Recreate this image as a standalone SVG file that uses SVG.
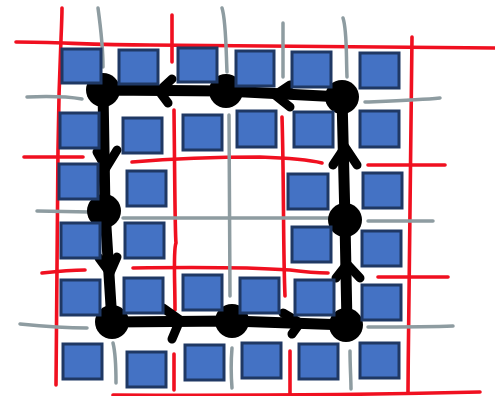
<svg xmlns="http://www.w3.org/2000/svg" width="495" height="396" viewBox="0 0 495 396">
<style>
.red{fill:none;stroke:#F01020;stroke-width:3.6;stroke-linecap:round;stroke-linejoin:round}
.gray{fill:none;stroke:#8E9CA1;stroke-width:3.5;stroke-linecap:round;stroke-linejoin:round}
.loop{fill:none;stroke:#000;stroke-width:11;stroke-linejoin:round;stroke-linecap:round}
.barb{fill:none;stroke:#000;stroke-width:9;stroke-linecap:round;stroke-linejoin:round}
.dot{fill:#000}
.sq{fill:#4472C4;stroke:#1F3864;stroke-width:3}
</style>
<rect width="495" height="396" fill="#fff"/>
<g id="grid-red">
<path class="red" d="M16,42 C60,42 90,45 150,45 L495,48"/>
<path class="red" d="M62,8 C62,30 59,60 58,150 L56,385"/>
<path class="red" d="M172,15 L172,62"/>
<path class="red" d="M174,110 C175,200 175,235 176,243 C173,250 175,280 175,310"/>
<path class="red" d="M174,354 L174,390"/>
<path class="red" d="M282,117 C284,180 283,250 285,296"/>
<path class="red" d="M290,351 L290,396"/>
<path class="red" d="M412,37 C411,100 409,250 408,393"/>
<path class="red" d="M24,157 L83,157"/>
<path class="red" d="M132,162 C180,158 240,157 260,157 C290,158 310,160 322,163"/>
<path class="red" d="M368,165 L445,165"/>
<path class="red" d="M42,273 C60,271 75,270 85,270"/>
<path class="red" d="M133,268 C200,267 260,268 290,270 C305,272 320,273 328,273"/>
<path class="red" d="M378,277 L448,277"/>
<path class="red" d="M113,395 C250,396 350,395 480,392"/>
</g>
<g id="grid-gray">
<path class="gray" d="M98,8 C101,30 103,50 103,67"/>
<path class="gray" d="M222,8 C226,20 226,50 227,72"/>
<path class="gray" d="M229,115 C230,200 230,250 230,296"/>
<path class="gray" d="M283,23 L283,77"/>
<path class="gray" d="M343,18 C347,30 346,50 347,77"/>
<path class="gray" d="M113,343 C116,355 116,370 116,383"/>
<path class="gray" d="M232,348 C231,360 231,375 232,388"/>
<path class="gray" d="M350,351 C350,365 351,380 351,389"/>
<path class="gray" d="M27,97 C50,96 70,97 82,99"/>
<path class="gray" d="M365,102 C390,101 420,100 440,98"/>
<path class="gray" d="M37,211 L90,212"/>
<path class="gray" d="M123,218 L328,218"/>
<path class="gray" d="M368,221 L433,221"/>
<path class="gray" d="M20,324 C40,326 70,328 87,328"/>
<path class="gray" d="M368,327 C400,327 430,327 453,326"/>
</g>
<g id="connectors">
<path class="loop" d="M103,90 L226,91 L342,97 L345,221 L347,325 L232,321 L112,322 L105,211 Z"/>
<path class="barb" d="M172,79 L159,91 L168,103"/>
<path class="barb" d="M290,85 L275,95 L290,107"/>
<path class="barb" d="M97,152 L106,168 L117,150"/>
<path class="barb" d="M99,258 L110,273 L117,257"/>
<path class="barb" d="M163,308 L180,320 L172,339"/>
<path class="barb" d="M283,313 L300,323 L292,334"/>
<path class="barb" d="M336,278 L347,264 L360,278"/>
<path class="barb" d="M333,165 L345,147 L357,165"/>
</g>
<g id="n1"><circle class="dot" cx="103" cy="90" r="17"/></g>
<g id="n2"><circle class="dot" cx="226" cy="91" r="17"/></g>
<g id="n3"><circle class="dot" cx="342" cy="97" r="17"/></g>
<g id="n4"><circle class="dot" cx="104" cy="211" r="17"/></g>
<g id="n5"><circle class="dot" cx="345" cy="220" r="17"/></g>
<g id="n6"><circle class="dot" cx="112" cy="322" r="17"/></g>
<g id="n7"><circle class="dot" cx="232" cy="321" r="17"/></g>
<g id="n8"><circle class="dot" cx="346" cy="325" r="17"/></g>
<g id="squares">
<g id="s1"><rect class="sq" x="62" y="49" width="39" height="34"/></g>
<g id="s2"><rect class="sq" x="119" y="50" width="39" height="34"/></g>
<g id="s3"><rect class="sq" x="178" y="48" width="39" height="34"/></g>
<g id="s4"><rect class="sq" x="236" y="51" width="38" height="35"/></g>
<g id="s5"><rect class="sq" x="292" y="52" width="39" height="35"/></g>
<g id="s6"><rect class="sq" x="360" y="53" width="39" height="35"/></g>
<g id="s7"><rect class="sq" x="60" y="113" width="39" height="35"/></g>
<g id="s8"><rect class="sq" x="123" y="118" width="39" height="35"/></g>
<g id="s9"><rect class="sq" x="183" y="115" width="39" height="35"/></g>
<g id="s10"><rect class="sq" x="237" y="111" width="39" height="36"/></g>
<g id="s11"><rect class="sq" x="294" y="112" width="39" height="35"/></g>
<g id="s12"><rect class="sq" x="360" y="111" width="39" height="36"/></g>
<g id="s13"><rect class="sq" x="59" y="164" width="39" height="35"/></g>
<g id="s14"><rect class="sq" x="127" y="171" width="39" height="35"/></g>
<g id="s15"><rect class="sq" x="288" y="174" width="40" height="35"/></g>
<g id="s16"><rect class="sq" x="363" y="173" width="39" height="35"/></g>
<g id="s17"><rect class="sq" x="61" y="223" width="39" height="35"/></g>
<g id="s18"><rect class="sq" x="125" y="223" width="39" height="35"/></g>
<g id="s19"><rect class="sq" x="292" y="227" width="39" height="35"/></g>
<g id="s20"><rect class="sq" x="362" y="231" width="39" height="35"/></g>
<g id="s21"><rect class="sq" x="61" y="280" width="39" height="35"/></g>
<g id="s22"><rect class="sq" x="124" y="278" width="39" height="35"/></g>
<g id="s23"><rect class="sq" x="183" y="275" width="39" height="35"/></g>
<g id="s24"><rect class="sq" x="240" y="278" width="39" height="35"/></g>
<g id="s25"><rect class="sq" x="295" y="280" width="39" height="35"/></g>
<g id="s26"><rect class="sq" x="362" y="285" width="39" height="35"/></g>
<g id="s27"><rect class="sq" x="63" y="344" width="39" height="35"/></g>
<g id="s28"><rect class="sq" x="127" y="352" width="39" height="35"/></g>
<g id="s29"><rect class="sq" x="185" y="345" width="39" height="35"/></g>
<g id="s30"><rect class="sq" x="242" y="343" width="39" height="35"/></g>
<g id="s31"><rect class="sq" x="299" y="344" width="39" height="35"/></g>
<g id="s32"><rect class="sq" x="360" y="343" width="39" height="35"/></g>
</g>
</svg>
